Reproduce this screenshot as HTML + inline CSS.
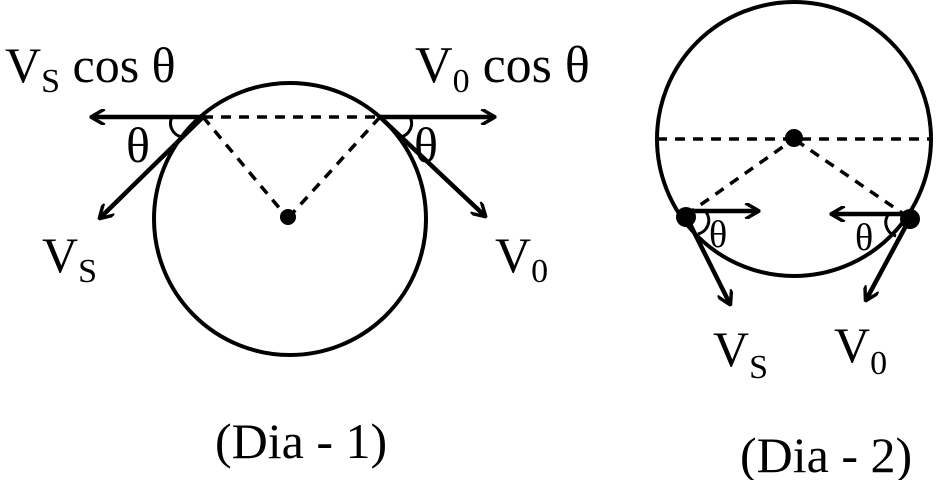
<!DOCTYPE html>
<html><head><style>body{margin:0;background:#fff}svg{display:block}</style></head><body>
<svg width="936" height="480" viewBox="0 0 936 480" xmlns="http://www.w3.org/2000/svg" font-family="Liberation Serif, serif" fill="none" stroke="#000">
<defs><marker id="a" viewBox="0 0 14 14" refX="12" refY="7" markerWidth="16" markerHeight="16" markerUnits="userSpaceOnUse" orient="auto"><path d="M1,0 L13,7 L1,14" stroke="#000" stroke-width="3" fill="none"/></marker></defs>
<!-- Dia 1 -->
<circle cx="290" cy="219" r="136" stroke-width="4"/>
<line x1="203" y1="117" x2="380" y2="117" stroke-width="3.5" stroke-dasharray="10,8"/>
<line x1="203" y1="117" x2="286" y2="216" stroke-width="3.5" stroke-dasharray="10,8"/>
<line x1="380" y1="117" x2="290" y2="216" stroke-width="3.5" stroke-dasharray="10,8"/>
<circle cx="288" cy="217" r="8" fill="#000" stroke="none"/>
<line x1="203" y1="117" x2="92" y2="117" stroke-width="4.5" marker-end="url(#a)"/>
<line x1="380" y1="117" x2="494" y2="117" stroke-width="4.5" marker-end="url(#a)"/>
<line x1="203" y1="117" x2="100" y2="218" stroke-width="4.5" marker-end="url(#a)"/>
<line x1="380" y1="117" x2="485" y2="216" stroke-width="4.5" marker-end="url(#a)"/>
<path d="M172,117 A 14 14 0 0 0 182,137" stroke-width="3"/>
<path d="M410,117 A 14 14 0 0 1 401,137" stroke-width="3"/>
<g fill="#000" stroke="none" font-size="50">
<text x="126" y="162">θ</text><text x="414" y="162">θ</text>
<text x="5" y="82">V<tspan font-size="34" dy="10">S</tspan><tspan dy="-10"> cos θ</tspan></text>
<text x="415" y="82" font-size="52">V<tspan font-size="34" dy="10">0</tspan><tspan dy="-10"> cos θ</tspan></text>
<text x="42" y="272">V<tspan font-size="34" dy="10">S</tspan></text>
<text x="495" y="272">V<tspan font-size="34" dy="10">0</tspan></text>
<text x="215" y="458">(Dia - 1)</text>
<text x="740" y="472">(Dia - 2)</text>
</g>
<!-- Dia 2 -->
<circle cx="794" cy="139" r="137" stroke-width="4"/>
<line x1="657" y1="139" x2="931" y2="139" stroke-width="3.5" stroke-dasharray="10,8"/>
<line x1="686" y1="215" x2="794" y2="139" stroke-width="3.5" stroke-dasharray="10,8"/>
<line x1="908" y1="217" x2="794" y2="139" stroke-width="3.5" stroke-dasharray="10,8"/>
<circle cx="794" cy="138" r="9" fill="#000" stroke="none"/>
<circle cx="686" cy="217" r="10" fill="#000" stroke="none"/>
<circle cx="910" cy="219" r="10" fill="#000" stroke="none"/>
<line x1="686" y1="211" x2="758" y2="211" stroke-width="4.5" marker-end="url(#a)"/>
<line x1="908" y1="214" x2="832" y2="214" stroke-width="4.5" marker-end="url(#a)"/>
<line x1="688" y1="220" x2="730" y2="304" stroke-width="4.5" marker-end="url(#a)"/>
<line x1="908" y1="222" x2="866" y2="300" stroke-width="4.5" marker-end="url(#a)"/>
<path d="M706,212 A 14 14 0 0 1 698,234" stroke-width="3"/>
<path d="M888,215 A 14 14 0 0 0 896,236" stroke-width="3"/>
<g fill="#000" stroke="none" font-size="38">
<text x="709" y="247">θ</text><text x="855" y="250">θ</text>
</g>
<g fill="#000" stroke="none" font-size="50">
<text x="713" y="366">V<tspan font-size="34" dy="12">S</tspan></text>
<text x="834" y="362">V<tspan font-size="34" dy="12">0</tspan></text>
</g>
</svg>
</body></html>
